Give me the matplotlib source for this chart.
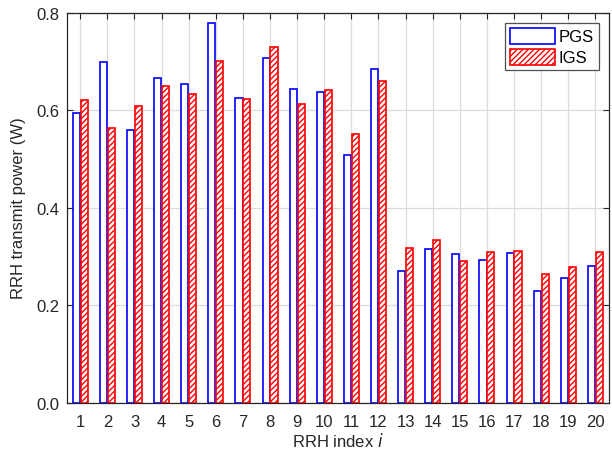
import matplotlib
matplotlib.use("Agg")
import matplotlib.pyplot as plt
import numpy as np

plt.rcParams['font.family'] = ['Liberation Sans', 'DejaVu Sans']
plt.rcParams['hatch.linewidth'] = 1.0

rrh_index = list(range(1, 21))
pgs = [0.594, 0.698, 0.560, 0.665, 0.653, 0.779, 0.625, 0.706, 0.644, 0.638,
       0.508, 0.684, 0.269, 0.316, 0.304, 0.292, 0.306, 0.228, 0.256, 0.280]
igs = [0.620, 0.564, 0.609, 0.649, 0.634, 0.700, 0.623, 0.730, 0.612, 0.641,
       0.552, 0.660, 0.318, 0.334, 0.291, 0.308, 0.310, 0.263, 0.278, 0.308]
y_ticks = [0.0, 0.2, 0.4, 0.6, 0.8]

fig = plt.figure(figsize=(6.12, 4.56), dpi=100)
ax = fig.add_axes([0.109, 0.115, 0.886, 0.855])

x = np.array(rrh_index)
w = 0.26
ax.bar(x - 0.145, pgs, width=w, facecolor='white', edgecolor='#0000ff',
       linewidth=1.2, label='PGS', zorder=3)
ax.bar(x + 0.145, igs, width=w, facecolor='white', edgecolor='#ff0000',
       linewidth=1.2, hatch='//////', label='IGS', zorder=3)

ax.set_xlim(0.5, 20.5)
ax.set_ylim(0, 0.8)
ax.set_xticks(rrh_index)
ax.set_yticks(y_ticks)
ax.set_yticklabels([f"{v:.1f}" for v in y_ticks])
ax.tick_params(direction='in', top=True, right=True, labelsize=12, length=4,
               width=0.8, colors='#262626')
ax.tick_params(axis='y', pad=5)
ax.tick_params(axis='x', pad=8)
ax.grid(True, color='#dcdcdc', linewidth=0.9, zorder=0)
ax.set_axisbelow(True)
for s in ax.spines.values():
    s.set_color('#262626')
    s.set_linewidth(0.9)

ax.set_xlabel('RRH index $\\mathit{i}$', fontsize=12, color='#262626', labelpad=2)
ax.set_ylabel('RRH transmit power (W)', fontsize=12, color='#262626', labelpad=8)

leg = ax.legend(loc='upper right', fontsize=12, handlelength=2.7, handleheight=1.1,
                frameon=True, fancybox=False, borderaxespad=0.6,
                handletextpad=0.2, labelspacing=0.25, borderpad=0.3)
leg.get_frame().set_edgecolor('#262626')
leg.get_frame().set_linewidth(0.9)

fig.savefig('out.png', dpi=100)
